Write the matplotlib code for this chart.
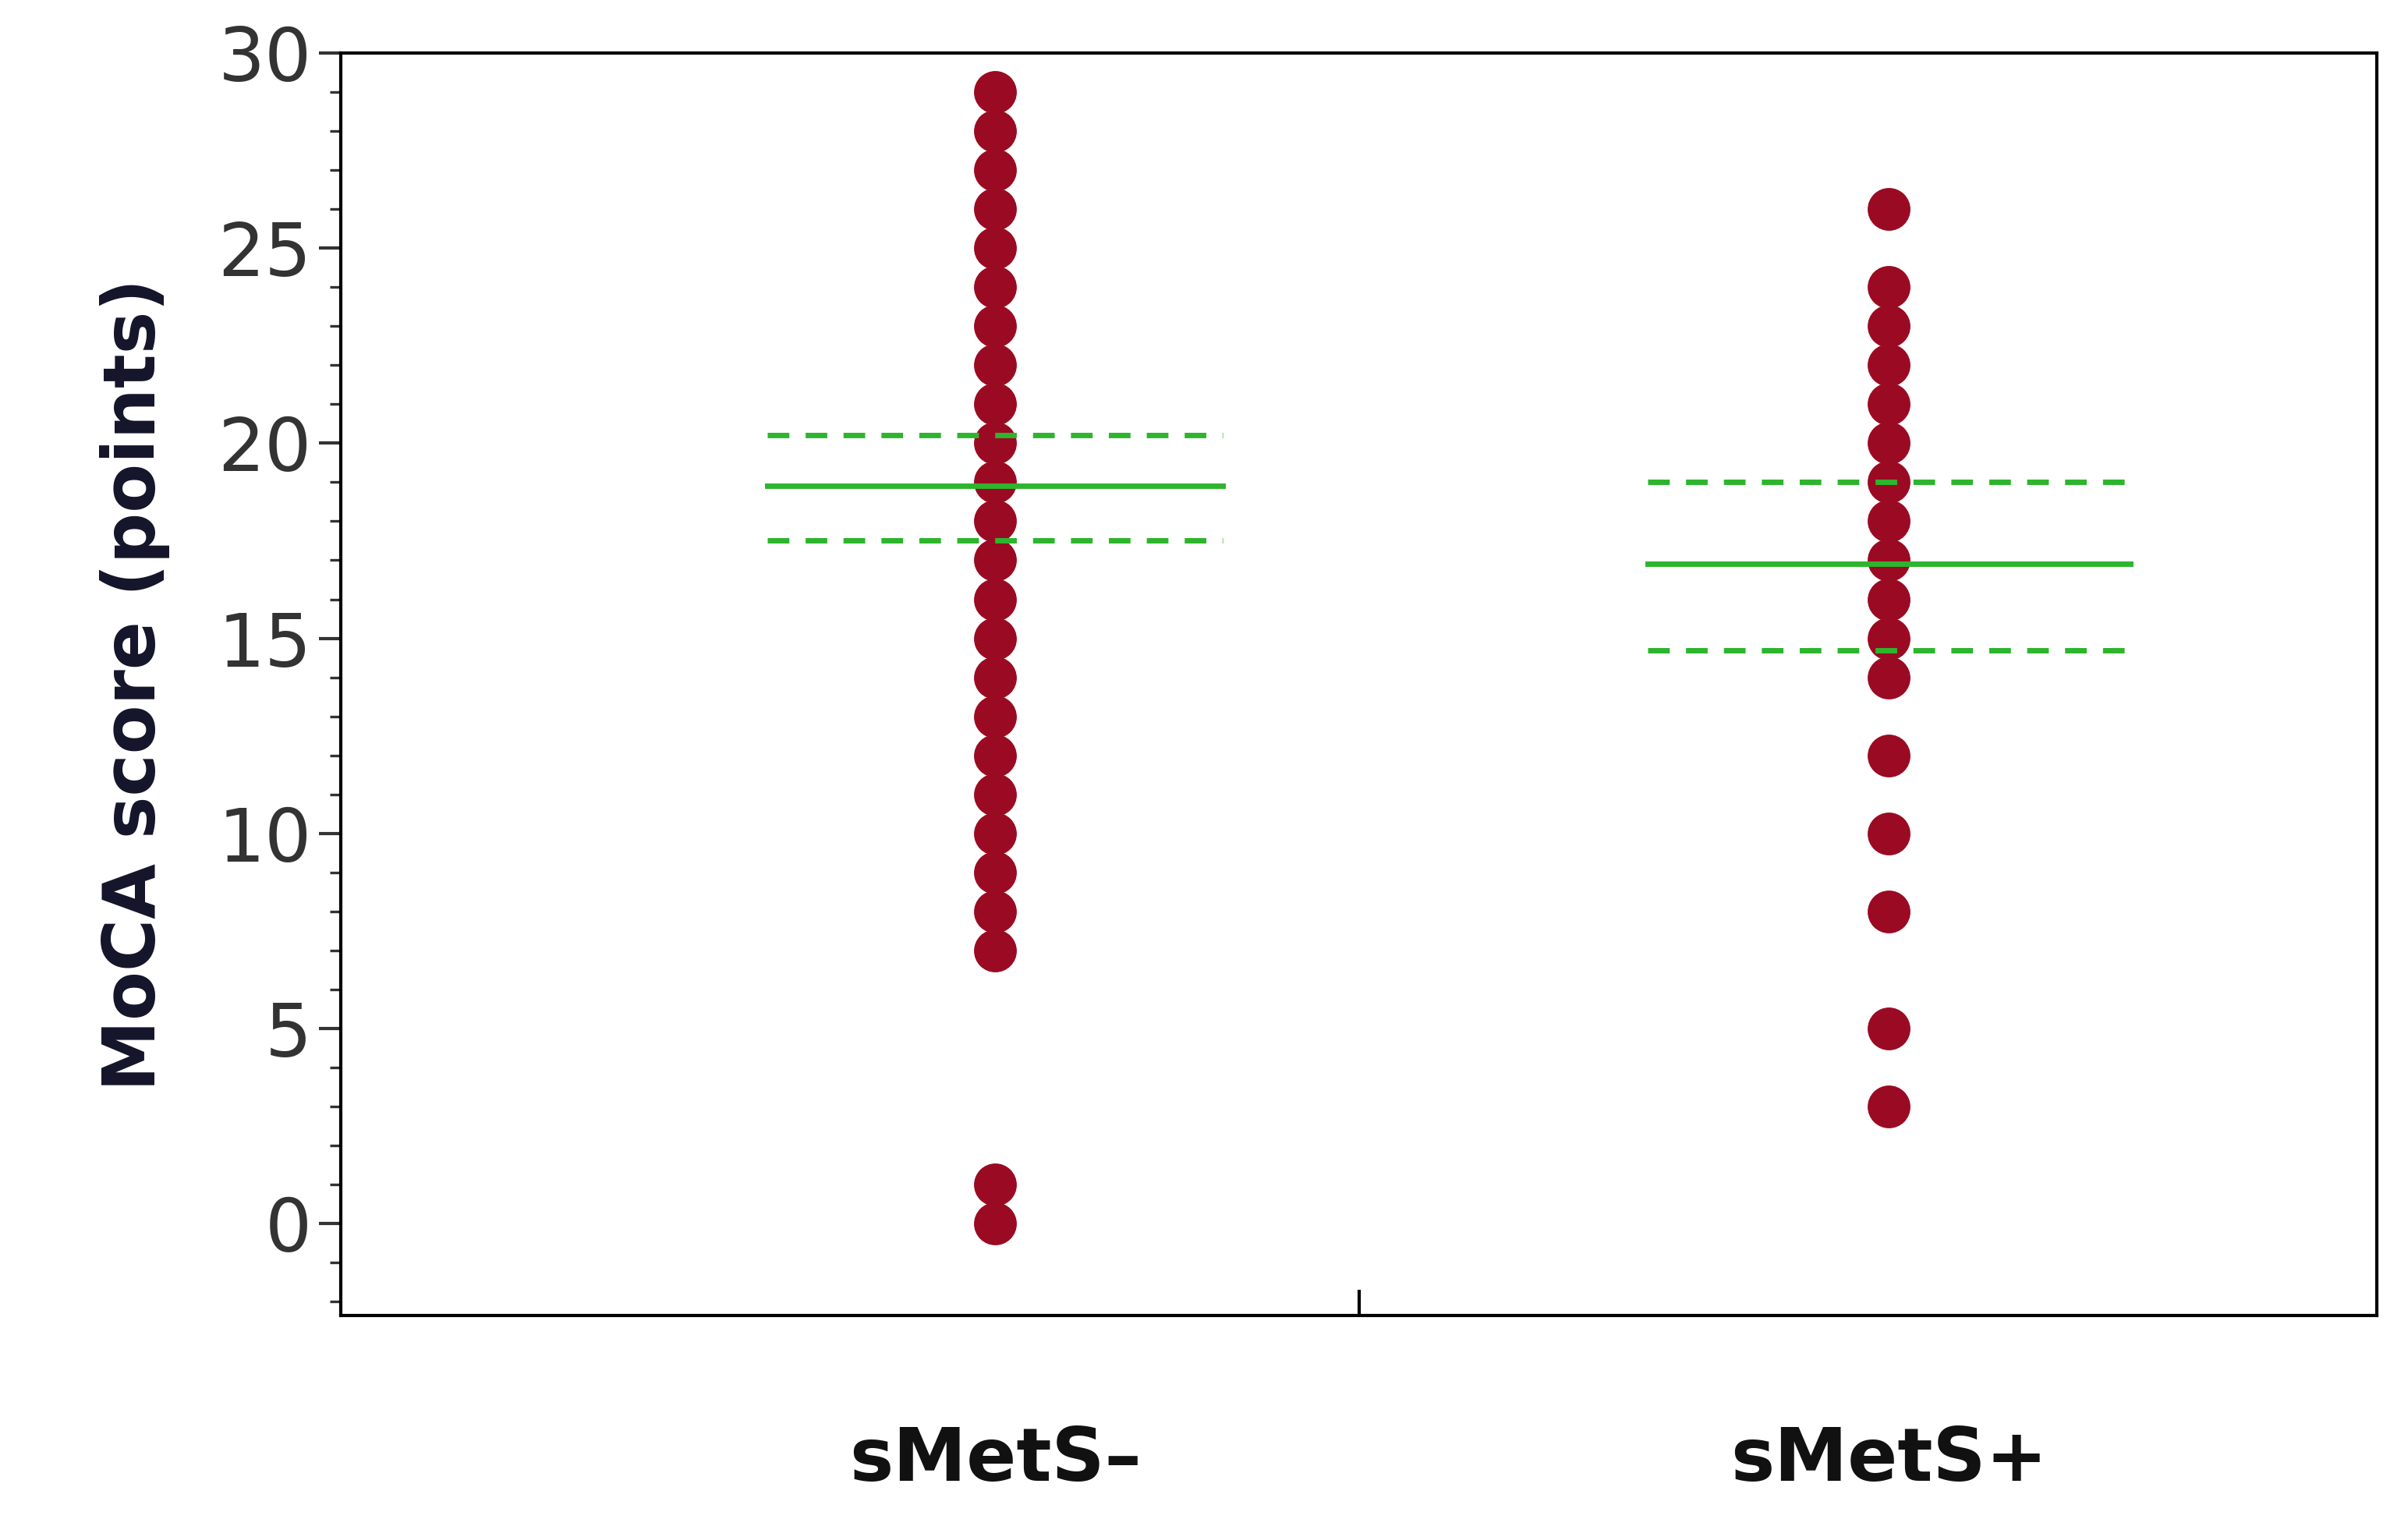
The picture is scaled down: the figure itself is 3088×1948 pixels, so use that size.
import matplotlib.pyplot as plt
import numpy as np

# ===== data =====
groups = ["sMetS\u2013", "sMetS+"]
neg_scores = [0, 1] + list(range(7, 30))
pos_scores = [3, 5, 8, 10, 12, 14, 15, 16, 17, 18, 19, 20, 21, 22, 23, 24, 26]
means = [18.9, 16.9]
ci_low = [17.5, 14.7]
ci_high = [20.2, 19.0]
half_widths = [0.255, 0.27]

fig = plt.figure(figsize=(15.44, 9.74), dpi=200)
ax = fig.add_axes([0.1416, 0.134, 0.8454, 0.831])

red = "#9B0A23"
green = "#2DB52D"

for i, scores in enumerate([neg_scores, pos_scores]):
    ax.scatter(np.full(len(scores), i), scores, s=390, color=red, zorder=3, linewidths=0)
    w = half_widths[i]
    ax.plot([i - w, i + w], [means[i]] * 2, color=green, lw=2.5, zorder=4)
    ax.plot([i - w, i + w], [ci_low[i]] * 2, color=green, lw=2.5, ls=(0, (4, 3)), zorder=4)
    ax.plot([i - w, i + w], [ci_high[i]] * 2, color=green, lw=2.5, ls=(0, (4, 3)), zorder=4)

ax.set_xlim(-0.732, 1.546)
ax.set_ylim(-2.36, 30)
ax.set_yticks(range(0, 31, 5))
ax.set_yticks(range(-2, 31), minor=True)
ax.tick_params(axis="y", which="major", labelsize=34, length=10, width=1.5, colors="#333333")
ax.tick_params(axis="y", which="minor", length=5, width=1.2, color="#333333")
ax.set_xticks([0.407])
ax.set_xticklabels([])
ax.tick_params(axis="x", length=12, width=1.5, direction="in")
for sp in ax.spines.values():
    sp.set_linewidth(1.5)

for i, g in enumerate(groups):
    ax.text(i, -0.115, g, transform=ax.get_xaxis_transform(), ha="center", va="center",
            fontsize=34, fontweight="bold", color="#111111")

ax.set_ylabel("MoCA score (points)", fontsize=33, fontweight="bold", color="#14142a", labelpad=22)

plt.savefig("out.png", dpi=200)
